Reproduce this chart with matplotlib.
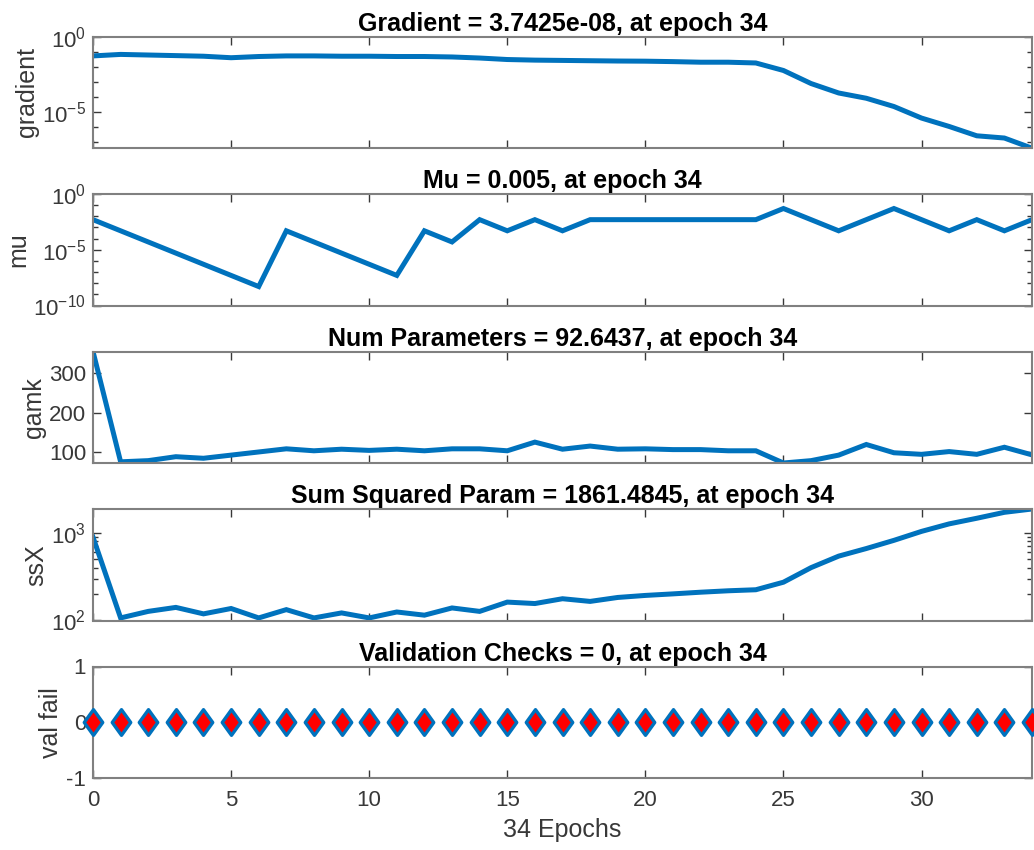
import numpy as np
import matplotlib
matplotlib.use('Agg')
import matplotlib.pyplot as plt
from matplotlib.path import Path
from matplotlib.ticker import FixedLocator, NullFormatter

plt.rcParams['font.family'] = ['Liberation Sans', 'DejaVu Sans']
plt.rcParams['axes.unicode_minus'] = False
plt.rcParams['mathtext.default'] = 'regular'

# datos
epochs = np.arange(0, 35)

gradient = [0.0525, 0.0661, 0.0603, 0.0550, 0.0501, 0.0398, 0.0479, 0.0525,
            0.0525, 0.0501, 0.0501, 0.0479, 0.0479, 0.0447, 0.0380, 0.0302,
            0.0275, 0.0263, 0.0251, 0.0240, 0.0234, 0.0219, 0.0200, 0.0200,
            0.0178, 0.00562, 7.59e-4, 1.78e-4, 7.94e-5, 2.24e-5, 3.80e-6,
            1.05e-6, 2.51e-7, 1.78e-7, 3.7425e-8]

mu = [5e-3, 5e-4, 5e-5, 5e-6, 5e-7, 5e-8, 5e-9, 5e-4, 5e-5, 5e-6, 5e-7, 5e-8,
      5e-4, 5e-5, 5e-3, 5e-4, 5e-3, 5e-4, 5e-3, 5e-3, 5e-3, 5e-3, 5e-3, 5e-3,
      5e-3, 5e-2, 5e-3, 5e-4, 5e-3, 5e-2, 5e-3, 5e-4, 5e-3, 5e-4, 5e-3]

gamk = [355, 75, 78, 88, 84, 92, 100, 108, 103, 107, 104, 107, 103, 108, 108,
        103, 125, 107, 115, 107, 108, 106, 106, 103, 103, 72, 78, 92, 119, 98,
        94, 101, 94, 112, 92.6437]

ssX = [890, 107, 127, 141, 119, 137, 107, 133, 107, 122, 107, 125, 115, 139,
       127, 162, 156, 177, 165, 183, 193, 201, 210, 218, 224, 273, 400, 541,
       660, 818, 1035, 1260, 1460, 1706, 1861.4845]

val_fail = [0] * 35

titulos = ['Gradient = 3.7425e-08, at epoch 34',
           'Mu = 0.005, at epoch 34',
           'Num Parameters = 92.6437, at epoch 34',
           'Sum Squared Param = 1861.4845, at epoch 34',
           'Validation Checks = 0, at epoch 34']
ylabels = ['gradient', 'mu', 'gamk', 'ssX', 'val fail']

azul = '#0072BD'
gris = '#383838'

# rombo un poco mas alto que ancho
rombo = Path([(0, 1), (0.72, 0), (0, -1), (-0.72, 0), (0, 1)],
             [Path.MOVETO, Path.LINETO, Path.LINETO, Path.LINETO, Path.CLOSEPOLY])

##############################
# Figura
##############################

W, H = 1034, 850
fig = plt.figure(figsize=(W / 100, H / 100), dpi=100)

left = 93 / W
width = (1032 - 93) / W
tops = [36.7, 194, 351.5, 509, 666.5]
alto = 111.5

axes = []
for t in tops:
    ax = fig.add_axes([left, 1 - (t + alto) / H, width, alto / H])
    axes.append(ax)

series = [gradient, mu, gamk, ssX]
for i in range(4):
    axes[i].plot(epochs, series[i], color=azul, lw=3.6, solid_joinstyle='miter')

axes[4].plot(epochs, val_fail, linestyle='none', marker=rombo, ms=18.5,
             mfc='red', mec=azul, mew=2.4, clip_on=False, zorder=5)

# escalas
axes[0].set_yscale('log')
axes[0].set_ylim(3.7425e-8, 1)
axes[0].yaxis.set_major_locator(FixedLocator([1e-5, 1e0]))
axes[0].yaxis.set_minor_locator(FixedLocator([10.0 ** k for k in range(-7, 0)]))

axes[1].set_yscale('log')
axes[1].set_ylim(1e-10, 1)
axes[1].yaxis.set_major_locator(FixedLocator([1e-10, 1e-5, 1e0]))
axes[1].yaxis.set_minor_locator(FixedLocator([10.0 ** k for k in range(-9, 0)]))

axes[2].set_ylim(72, 355)
axes[2].set_yticks([100, 200, 300])

axes[3].set_yscale('log')
axes[3].set_ylim(100, 1861.4845)
axes[3].yaxis.set_major_locator(FixedLocator([1e2, 1e3]))
axes[3].yaxis.set_minor_locator(FixedLocator([m * 100 for m in range(2, 10)]))

axes[4].set_ylim(-1, 1)
axes[4].set_yticks([-1, 0, 1])

for i, ax in enumerate(axes):
    ax.set_xlim(0, 34)
    ax.set_xticks(np.arange(0, 35, 5))
    ax.set_title(titulos[i], fontsize=18, fontweight='bold', color='black', pad=4)
    ax.set_ylabel(ylabels[i], fontsize=18, color=gris, labelpad=2)
    ax.tick_params(which='both', direction='in', top=True, right=True,
                   colors=gris, labelsize=16, pad=5)
    ax.tick_params(which='major', length=6, width=1)
    ax.tick_params(which='minor', length=3.5, width=1)
    ax.yaxis.set_minor_formatter(NullFormatter())
    for s in ax.spines.values():
        s.set_color('#808080')
        s.set_linewidth(1.5)
    if i < 4:
        ax.set_xticklabels([])

axes[4].tick_params(axis='x', pad=9)
axes[4].set_xlabel('34 Epochs', fontsize=18, color=gris, labelpad=5)

fig.savefig('out.png', dpi=100)
